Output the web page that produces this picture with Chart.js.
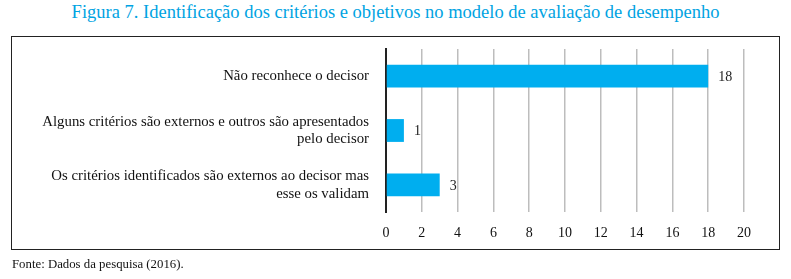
<!DOCTYPE html>
<html>
<head>
<meta charset="utf-8">
<script src="https://cdn.jsdelivr.net/npm/chart.js@4/dist/chart.umd.min.js"></script>
<style>
  html, body { margin: 0; padding: 0; background: #fff; }
  body { width: 791px; height: 279px; position: relative; overflow: hidden; }
  #title { position: absolute; left: 0; top: 2px; width: 791px; text-align: center;
    font-family: "Liberation Serif", "DejaVu Serif", serif; font-size: 18.5px; color: #00a3e2; white-space: nowrap; }
  #frame { position: absolute; left: 11px; top: 36px; width: 767px; height: 212px; border: 1.5px solid #222; }
  #wrap { position: absolute; left: 0; top: 0; width: 791px; height: 279px; }
  #source { position: absolute; left: 12px; top: 257px; font-family: "Liberation Serif", "DejaVu Serif", serif;
    font-size: 12.8px; color: #111; white-space: nowrap; }
</style>
</head>
<body>
<div id="title">Figura 7. Identificação dos critérios e objetivos no modelo de avaliação de desempenho</div>
<div id="frame"></div>
<div id="wrap"><canvas id="c" width="791" height="279"></canvas></div>
<div id="source">Fonte: Dados da pesquisa (2016).</div>
<script>
const categories = [
  "Não reconhece o decisor",
  ["Alguns critérios são externos e outros são apresentados", "pelo decisor"],
  ["Os critérios identificados são externos ao decisor mas", "esse os validam"]
];
const counts = [18, 1, 3];
const axisMin = 0;
const axisMax = 20;
const axisStep = 2;

const valueLabels = {
  id: 'valueLabels',
  afterDatasetsDraw(chart) {
    const ctx = chart.ctx;
    const meta = chart.getDatasetMeta(0);
    ctx.save();
    ctx.font = '14px "Liberation Serif", serif';
    ctx.fillStyle = '#222';
    ctx.textAlign = 'left';
    ctx.textBaseline = 'middle';
    meta.data.forEach((bar, i) => {
      ctx.fillText(String(counts[i]), bar.x + 10, bar.y + 1);
    });
    ctx.restore();
  }
};

new Chart(document.getElementById('c'), {
  type: 'bar',
  data: {
    labels: categories,
    datasets: [{
      data: counts,
      backgroundColor: '#00aeef',
      borderWidth: 0,
      barPercentage: 0.42,
      categoryPercentage: 1.0
    }]
  },
  options: {
    indexAxis: 'y',
    responsive: false,
    animation: false,
    devicePixelRatio: 1,
    layout: { padding: { top: 49, right: 47, bottom: 0, left: 0 } },
    plugins: { legend: { display: false }, tooltip: { enabled: false }, title: { display: false } },
    scales: {
      x: {
        min: axisMin, max: axisMax,
        ticks: { stepSize: axisStep, padding: 13, color: '#111',
          font: { family: '"Liberation Serif", serif', size: 14 } },
        grid: { color: '#bdbdbd', lineWidth: 1.5, drawTicks: false },
        border: { display: false },
        afterFit(scale) { scale.height = 67; }
      },
      y: {
        ticks: { padding: 9, color: '#111',
          font: { family: '"Liberation Serif", serif', size: 14.8, lineHeight: 1.19 } },
        grid: { display: false },
        border: { display: true, color: '#222', width: 2 },
        afterFit(scale) { scale.width = 386; }
      }
    }
  },
  plugins: [valueLabels]
});
</script>
</body>
</html>
